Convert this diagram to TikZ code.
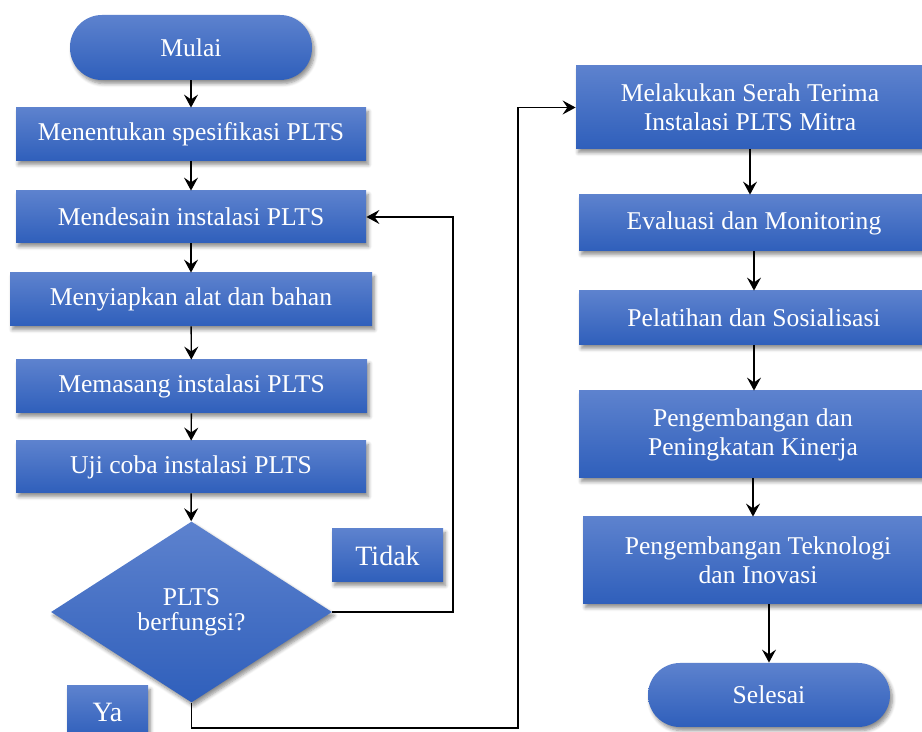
\documentclass[tikz,border=0pt]{standalone}
\usepackage{fontspec}
\setmainfont{Liberation Serif}
\usetikzlibrary{shapes.geometric,arrows.meta,shadows.blur}

\definecolor{boxtop}{RGB}{93,130,206}
\definecolor{boxbot}{RGB}{47,95,187}

\begin{document}
\begin{tikzpicture}[x=0.5pt, y=-0.5pt,
    kotak/.style={rectangle, inner sep=0pt, top color=boxtop, bottom color=boxbot,
        text=white, align=center, font=\fontsize{12.8}{14.5}\selectfont,
        blur shadow={shadow xshift=1.2pt, shadow yshift=-1.8pt, shadow blur steps=6, shadow opacity=45}},
    ujung/.style={kotak, rounded corners=16pt},
    keputusan/.style={kotak, diamond, font=\fontsize{12.8}{12.6}\selectfont},
    label/.style={kotak, font=\fontsize{14}{15}\selectfont},
    panah/.style={-{Stealth[length=6.5pt, width=7pt, inset=2.4pt]}, line width=0.7pt},
    garis/.style={line width=0.6pt}]

    \useasboundingbox (0,0) rectangle (922,732);
    \clip (0,0) rectangle (922,732);

    % kolom kiri
    \node[ujung, minimum width=121pt, minimum height=32.5pt] (mulai) at (191,47.5) {Mulai};
    \node[kotak, minimum width=175pt, minimum height=26.5pt] (spek) at (191,134.5) {Menentukan spesifikasi PLTS};
    \node[kotak, minimum width=175pt, minimum height=26pt] (desain) at (191,217) {Mendesain instalasi PLTS};
    \node[kotak, minimum width=181pt, minimum height=26.5pt] (alat) at (191,299.5) {Menyiapkan alat dan bahan};
    \node[kotak, minimum width=175.5pt, minimum height=26.5pt] (pasang) at (191.5,386.5) {Memasang instalasi PLTS};
    \node[kotak, minimum width=175pt, minimum height=26pt] (uji) at (191,467) {Uji coba instalasi PLTS};
    \node[keputusan, minimum width=140.5pt, minimum height=90.5pt] (cek) at (191.5,612) {PLTS\\berfungsi?};

    \node[label, minimum width=55.5pt, minimum height=26.5pt] (tidak) at (387.5,555.5) {Tidak};
    \node[label, minimum width=40.5pt, minimum height=26pt] (ya) at (107.5,712) {Ya};

    % kolom kanan
    \node[kotak, minimum width=174pt, minimum height=41.5pt] (serah) at (750,107.5) {Melakukan Serah Terima\\Instalasi PLTS Mitra};
    \node[kotak, minimum width=175pt, minimum height=28pt] (evaluasi) at (754,223) {Evaluasi dan Monitoring};
    \node[kotak, minimum width=175pt, minimum height=27pt] (latih) at (754,318) {Pelatihan dan Sosialisasi};
    \node[kotak, minimum width=174pt, minimum height=43.5pt] (kinerja) at (753,434.5) {Pengembangan dan\\Peningkatan Kinerja};
    \node[kotak, minimum width=175pt, minimum height=43.5pt] (inovasi) at (758,560.5) {Pengembangan Teknologi\\dan Inovasi};
    \node[ujung, minimum width=121pt, minimum height=32pt] (selesai) at (769,695) {Selesai};

    \draw[panah] (mulai) -- (spek);
    \draw[panah] (spek) -- (desain);
    \draw[panah] (desain) -- (alat);
    \draw[panah] (alat) -- (pasang);
    \draw[panah] (pasang) -- (uji);
    \draw[panah] (uji) -- (cek);

    % kembali ke desain
    \coordinate (balik) at (453,612);
    \draw[panah] (cek.east) -- (balik) |- (desain.east);

    % lanjut ke serah terima
    \coordinate (bawah) at (187,728);
    \coordinate (naik) at (518,728);
    \draw[panah] (cek.south) -- (cek.south |- bawah) -- (naik) |- (serah.west);

    \draw[panah] (serah) -- (serah |- evaluasi.north);
    \draw[panah] (evaluasi) -- (evaluasi |- latih.north);
    \draw[panah] (latih) -- (latih |- kinerja.north);
    \draw[panah] (kinerja) -- (kinerja |- inovasi.north);
    \draw[panah] (inovasi.south -| selesai) -- (selesai);

\end{tikzpicture}
\end{document}
